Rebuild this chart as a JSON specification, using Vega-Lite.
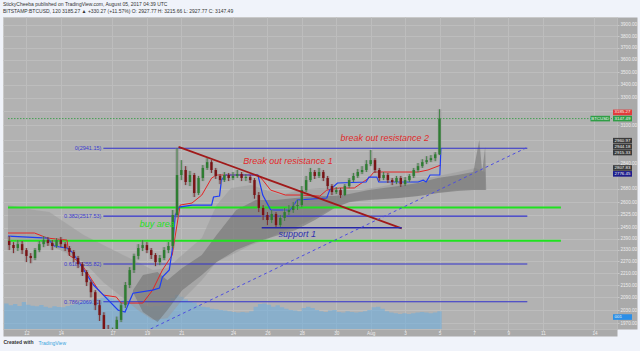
{
  "$schema": "https://vega.github.io/schema/vega-lite/v6.json",
  "width": 614,
  "height": 312,
  "autosize": {"type": "none"},
  "padding": {"left": 3, "top": 17, "right": 23, "bottom": 22},
  "background": "#f0f3fa",
  "title": {
    "text": "StickyCheeba published on TradingView.com, August 05, 2017 04:39 UTC",
    "subtitle": "BITSTAMP:BTCUSD, 120  3185.27 ▲ +330.27 (+11.57%) O: 2927.77 H: 3215.66 L: 2927.77 C: 3147.49",
    "anchor": "start",
    "frame": "group",
    "font": "Liberation Sans",
    "subtitleFont": "Liberation Sans",
    "fontSize": 5,
    "subtitleFontSize": 5,
    "fontWeight": "normal",
    "color": "#333333",
    "subtitleColor": "#333333",
    "offset": 3,
    "subtitlePadding": 2
  },
  "datasets": {
    "candles": [
      {"t": 11.00, "open": 2378, "high": 2405, "low": 2329, "close": 2356, "volume": 7800},
      {"t": 11.25, "open": 2356, "high": 2372, "low": 2313, "close": 2340, "volume": 7200},
      {"t": 11.50, "open": 2340, "high": 2383, "low": 2324, "close": 2361, "volume": 7600},
      {"t": 11.75, "open": 2361, "high": 2378, "low": 2308, "close": 2329, "volume": 7000},
      {"t": 12.00, "open": 2329, "high": 2340, "low": 2266, "close": 2298, "volume": 8200},
      {"t": 12.25, "open": 2298, "high": 2313, "low": 2260, "close": 2287, "volume": 7400},
      {"t": 12.50, "open": 2287, "high": 2340, "low": 2276, "close": 2329, "volume": 7100},
      {"t": 12.75, "open": 2329, "high": 2378, "low": 2318, "close": 2361, "volume": 6900},
      {"t": 13.00, "open": 2361, "high": 2405, "low": 2345, "close": 2383, "volume": 7300},
      {"t": 13.25, "open": 2383, "high": 2400, "low": 2351, "close": 2367, "volume": 6800},
      {"t": 13.50, "open": 2367, "high": 2383, "low": 2329, "close": 2351, "volume": 6500},
      {"t": 13.75, "open": 2351, "high": 2394, "low": 2340, "close": 2383, "volume": 6900},
      {"t": 14.00, "open": 2383, "high": 2400, "low": 2345, "close": 2361, "volume": 6700},
      {"t": 14.25, "open": 2361, "high": 2372, "low": 2324, "close": 2340, "volume": 6600},
      {"t": 14.50, "open": 2340, "high": 2351, "low": 2298, "close": 2319, "volume": 7000},
      {"t": 14.75, "open": 2319, "high": 2329, "low": 2266, "close": 2287, "volume": 7400},
      {"t": 15.00, "open": 2287, "high": 2298, "low": 2235, "close": 2255, "volume": 7800},
      {"t": 15.25, "open": 2255, "high": 2266, "low": 2195, "close": 2215, "volume": 8200},
      {"t": 15.50, "open": 2215, "high": 2225, "low": 2145, "close": 2164, "volume": 8600},
      {"t": 15.75, "open": 2164, "high": 2174, "low": 2090, "close": 2115, "volume": 8400},
      {"t": 16.00, "open": 2115, "high": 2125, "low": 2030, "close": 2053, "volume": 9000},
      {"t": 16.25, "open": 2053, "high": 2077, "low": 1980, "close": 2007, "volume": 9200},
      {"t": 16.50, "open": 2007, "high": 2020, "low": 1900, "close": 1939, "volume": 9600},
      {"t": 16.75, "open": 1939, "high": 1962, "low": 1832, "close": 1904, "volume": 10000},
      {"t": 17.00, "open": 1904, "high": 1950, "low": 1860, "close": 1930, "volume": 9400},
      {"t": 17.25, "open": 1930, "high": 2000, "low": 1915, "close": 1985, "volume": 8800},
      {"t": 17.50, "open": 1985, "high": 2065, "low": 1975, "close": 2053, "volume": 8600},
      {"t": 17.75, "open": 2053, "high": 2165, "low": 2040, "close": 2150, "volume": 8800},
      {"t": 18.00, "open": 2150, "high": 2240, "low": 2135, "close": 2225, "volume": 8400},
      {"t": 18.25, "open": 2225, "high": 2310, "low": 2210, "close": 2298, "volume": 8000},
      {"t": 18.50, "open": 2298, "high": 2361, "low": 2280, "close": 2340, "volume": 7600},
      {"t": 18.75, "open": 2340, "high": 2383, "low": 2324, "close": 2356, "volume": 7400},
      {"t": 19.00, "open": 2356, "high": 2372, "low": 2313, "close": 2329, "volume": 7000},
      {"t": 19.25, "open": 2329, "high": 2340, "low": 2282, "close": 2303, "volume": 6800},
      {"t": 19.50, "open": 2303, "high": 2313, "low": 2245, "close": 2266, "volume": 7000},
      {"t": 19.75, "open": 2266, "high": 2303, "low": 2250, "close": 2287, "volume": 6900},
      {"t": 20.00, "open": 2287, "high": 2345, "low": 2276, "close": 2329, "volume": 7200},
      {"t": 20.25, "open": 2329, "high": 2372, "low": 2313, "close": 2351, "volume": 7600},
      {"t": 20.50, "open": 2351, "high": 2553, "low": 2340, "close": 2524, "volume": 9400},
      {"t": 20.75, "open": 2524, "high": 2941, "low": 2510, "close": 2766, "volume": 10400},
      {"t": 21.00, "open": 2766, "high": 2862, "low": 2734, "close": 2798, "volume": 9800},
      {"t": 21.25, "open": 2798, "high": 2823, "low": 2703, "close": 2722, "volume": 9000},
      {"t": 21.50, "open": 2722, "high": 2792, "low": 2697, "close": 2766, "volume": 8200},
      {"t": 21.75, "open": 2766, "high": 2779, "low": 2630, "close": 2654, "volume": 8000},
      {"t": 22.00, "open": 2654, "high": 2760, "low": 2642, "close": 2747, "volume": 7200},
      {"t": 22.25, "open": 2747, "high": 2830, "low": 2728, "close": 2811, "volume": 6800},
      {"t": 22.50, "open": 2811, "high": 2875, "low": 2798, "close": 2849, "volume": 6600},
      {"t": 22.75, "open": 2849, "high": 2862, "low": 2779, "close": 2798, "volume": 6200},
      {"t": 23.00, "open": 2798, "high": 2811, "low": 2741, "close": 2760, "volume": 6000},
      {"t": 23.25, "open": 2760, "high": 2772, "low": 2709, "close": 2734, "volume": 5800},
      {"t": 23.50, "open": 2734, "high": 2785, "low": 2722, "close": 2766, "volume": 5600},
      {"t": 23.75, "open": 2766, "high": 2779, "low": 2728, "close": 2747, "volume": 5400},
      {"t": 24.00, "open": 2747, "high": 2785, "low": 2734, "close": 2760, "volume": 5200},
      {"t": 24.25, "open": 2760, "high": 2798, "low": 2747, "close": 2772, "volume": 5000},
      {"t": 24.50, "open": 2772, "high": 2785, "low": 2728, "close": 2747, "volume": 5200},
      {"t": 24.75, "open": 2747, "high": 2772, "low": 2728, "close": 2753, "volume": 5000},
      {"t": 25.00, "open": 2753, "high": 2766, "low": 2716, "close": 2734, "volume": 5400},
      {"t": 25.25, "open": 2734, "high": 2747, "low": 2620, "close": 2642, "volume": 6800},
      {"t": 25.50, "open": 2642, "high": 2660, "low": 2541, "close": 2565, "volume": 7600},
      {"t": 25.75, "open": 2565, "high": 2582, "low": 2495, "close": 2524, "volume": 7800},
      {"t": 26.00, "open": 2524, "high": 2541, "low": 2466, "close": 2495, "volume": 7400},
      {"t": 26.25, "open": 2495, "high": 2553, "low": 2478, "close": 2530, "volume": 6800},
      {"t": 26.50, "open": 2530, "high": 2541, "low": 2450, "close": 2466, "volume": 7200},
      {"t": 26.75, "open": 2466, "high": 2524, "low": 2455, "close": 2507, "volume": 6600},
      {"t": 27.00, "open": 2507, "high": 2565, "low": 2490, "close": 2541, "volume": 6200},
      {"t": 27.25, "open": 2541, "high": 2582, "low": 2524, "close": 2553, "volume": 5800},
      {"t": 27.50, "open": 2553, "high": 2600, "low": 2536, "close": 2576, "volume": 5600},
      {"t": 27.75, "open": 2576, "high": 2612, "low": 2553, "close": 2582, "volume": 5400},
      {"t": 28.00, "open": 2582, "high": 2697, "low": 2570, "close": 2672, "volume": 6400},
      {"t": 28.25, "open": 2672, "high": 2760, "low": 2660, "close": 2734, "volume": 6800},
      {"t": 28.50, "open": 2734, "high": 2811, "low": 2722, "close": 2785, "volume": 6400},
      {"t": 28.75, "open": 2785, "high": 2798, "low": 2741, "close": 2760, "volume": 5800},
      {"t": 29.00, "open": 2760, "high": 2811, "low": 2747, "close": 2785, "volume": 5400},
      {"t": 29.25, "open": 2785, "high": 2798, "low": 2728, "close": 2747, "volume": 5200},
      {"t": 29.50, "open": 2747, "high": 2760, "low": 2678, "close": 2697, "volume": 5600},
      {"t": 29.75, "open": 2697, "high": 2709, "low": 2642, "close": 2660, "volume": 5800},
      {"t": 30.00, "open": 2660, "high": 2691, "low": 2648, "close": 2672, "volume": 5200},
      {"t": 30.25, "open": 2672, "high": 2685, "low": 2624, "close": 2642, "volume": 5000},
      {"t": 30.50, "open": 2642, "high": 2709, "low": 2636, "close": 2697, "volume": 5400},
      {"t": 30.75, "open": 2697, "high": 2747, "low": 2685, "close": 2734, "volume": 5200},
      {"t": 31.00, "open": 2734, "high": 2779, "low": 2722, "close": 2760, "volume": 5000},
      {"t": 31.25, "open": 2760, "high": 2804, "low": 2747, "close": 2785, "volume": 5200},
      {"t": 31.50, "open": 2785, "high": 2823, "low": 2772, "close": 2798, "volume": 5400},
      {"t": 31.75, "open": 2798, "high": 2862, "low": 2785, "close": 2836, "volume": 5800},
      {"t": 32.00, "open": 2836, "high": 2929, "low": 2823, "close": 2862, "volume": 6600},
      {"t": 32.25, "open": 2862, "high": 2875, "low": 2779, "close": 2798, "volume": 6800},
      {"t": 32.50, "open": 2798, "high": 2811, "low": 2728, "close": 2747, "volume": 6200},
      {"t": 32.75, "open": 2747, "high": 2785, "low": 2734, "close": 2766, "volume": 5400},
      {"t": 33.00, "open": 2766, "high": 2779, "low": 2716, "close": 2734, "volume": 5000},
      {"t": 33.25, "open": 2734, "high": 2747, "low": 2703, "close": 2722, "volume": 4800},
      {"t": 33.50, "open": 2722, "high": 2760, "low": 2709, "close": 2747, "volume": 4600},
      {"t": 33.75, "open": 2747, "high": 2760, "low": 2691, "close": 2709, "volume": 4800},
      {"t": 34.00, "open": 2709, "high": 2753, "low": 2697, "close": 2734, "volume": 4600},
      {"t": 34.25, "open": 2734, "high": 2772, "low": 2722, "close": 2760, "volume": 4800},
      {"t": 34.50, "open": 2760, "high": 2811, "low": 2747, "close": 2798, "volume": 5000},
      {"t": 34.75, "open": 2798, "high": 2843, "low": 2785, "close": 2823, "volume": 5200},
      {"t": 35.00, "open": 2823, "high": 2868, "low": 2811, "close": 2849, "volume": 5000},
      {"t": 35.25, "open": 2849, "high": 2888, "low": 2836, "close": 2862, "volume": 4800},
      {"t": 35.50, "open": 2862, "high": 2895, "low": 2849, "close": 2875, "volume": 5000},
      {"t": 35.75, "open": 2875, "high": 2915, "low": 2855, "close": 2900, "volume": 5400},
      {"t": 36.00, "open": 2900, "high": 3215.66, "low": 2895, "close": 3147.49, "volume": 9000}
    ],
    "ichimoku": [
      {"line": "conversion", "t": 10.93, "price": 2405},
      {"line": "conversion", "t": 13.22, "price": 2394},
      {"line": "conversion", "t": 13.62, "price": 2351},
      {"line": "conversion", "t": 14.36, "price": 2340},
      {"line": "conversion", "t": 14.65, "price": 2319},
      {"line": "conversion", "t": 15.05, "price": 2266},
      {"line": "conversion", "t": 15.90, "price": 2150},
      {"line": "conversion", "t": 16.76, "price": 2077},
      {"line": "conversion", "t": 17.33, "price": 2030},
      {"line": "conversion", "t": 17.73, "price": 2021},
      {"line": "conversion", "t": 18.02, "price": 2077},
      {"line": "conversion", "t": 18.19, "price": 2110},
      {"line": "conversion", "t": 19.33, "price": 2125},
      {"line": "conversion", "t": 19.73, "price": 2135},
      {"line": "conversion", "t": 19.90, "price": 2190},
      {"line": "conversion", "t": 20.30, "price": 2225},
      {"line": "conversion", "t": 20.47, "price": 2329},
      {"line": "conversion", "t": 20.65, "price": 2524},
      {"line": "conversion", "t": 20.87, "price": 2570},
      {"line": "conversion", "t": 21.62, "price": 2582},
      {"line": "conversion", "t": 22.76, "price": 2582},
      {"line": "conversion", "t": 22.87, "price": 2630},
      {"line": "conversion", "t": 23.22, "price": 2636},
      {"line": "conversion", "t": 23.33, "price": 2734},
      {"line": "conversion", "t": 23.56, "price": 2766},
      {"line": "conversion", "t": 25.45, "price": 2766},
      {"line": "conversion", "t": 25.73, "price": 2642},
      {"line": "conversion", "t": 26.19, "price": 2553},
      {"line": "conversion", "t": 27.33, "price": 2553},
      {"line": "conversion", "t": 27.73, "price": 2612},
      {"line": "conversion", "t": 29.45, "price": 2624},
      {"line": "conversion", "t": 29.62, "price": 2672},
      {"line": "conversion", "t": 30.07, "price": 2716},
      {"line": "conversion", "t": 31.73, "price": 2722},
      {"line": "conversion", "t": 31.90, "price": 2753},
      {"line": "conversion", "t": 32.36, "price": 2753},
      {"line": "conversion", "t": 32.47, "price": 2722},
      {"line": "conversion", "t": 34.76, "price": 2722},
      {"line": "conversion", "t": 35.05, "price": 2734},
      {"line": "conversion", "t": 35.22, "price": 2722},
      {"line": "conversion", "t": 35.45, "price": 2766},
      {"line": "conversion", "t": 36.02, "price": 2766},
      {"line": "conversion", "t": 36.08, "price": 2942},
      {"line": "base", "t": 10.93, "price": 2422},
      {"line": "base", "t": 12.47, "price": 2422},
      {"line": "base", "t": 13.22, "price": 2394},
      {"line": "base", "t": 14.36, "price": 2383},
      {"line": "base", "t": 14.47, "price": 2303},
      {"line": "base", "t": 15.16, "price": 2260},
      {"line": "base", "t": 15.62, "price": 2200},
      {"line": "base", "t": 16.19, "price": 2125},
      {"line": "base", "t": 16.47, "price": 2101},
      {"line": "base", "t": 17.22, "price": 2092},
      {"line": "base", "t": 17.50, "price": 2063},
      {"line": "base", "t": 18.76, "price": 2063},
      {"line": "base", "t": 19.33, "price": 2125},
      {"line": "base", "t": 19.90, "price": 2225},
      {"line": "base", "t": 20.47, "price": 2303},
      {"line": "base", "t": 20.93, "price": 2582},
      {"line": "base", "t": 21.62, "price": 2594},
      {"line": "base", "t": 22.19, "price": 2642},
      {"line": "base", "t": 22.76, "price": 2747},
      {"line": "base", "t": 23.05, "price": 2766},
      {"line": "base", "t": 25.45, "price": 2766},
      {"line": "base", "t": 25.73, "price": 2734},
      {"line": "base", "t": 26.19, "price": 2672},
      {"line": "base", "t": 27.05, "price": 2642},
      {"line": "base", "t": 27.90, "price": 2642},
      {"line": "base", "t": 29.05, "price": 2636},
      {"line": "base", "t": 29.45, "price": 2672},
      {"line": "base", "t": 30.19, "price": 2685},
      {"line": "base", "t": 31.05, "price": 2685},
      {"line": "base", "t": 31.90, "price": 2747},
      {"line": "base", "t": 32.19, "price": 2785},
      {"line": "base", "t": 34.76, "price": 2785},
      {"line": "base", "t": 35.33, "price": 2798},
      {"line": "base", "t": 36.08, "price": 2830}
    ],
    "clouds": [
      {"cloud": "outer", "t": 10.93, "top": 2582, "bottom": 2383},
      {"cloud": "outer", "t": 12.47, "top": 2553, "bottom": 2383},
      {"cloud": "outer", "t": 13.33, "top": 2541, "bottom": 2356},
      {"cloud": "outer", "t": 14.19, "top": 2484, "bottom": 2319},
      {"cloud": "outer", "t": 15.33, "top": 2411, "bottom": 2266},
      {"cloud": "outer", "t": 16.47, "top": 2356, "bottom": 2164},
      {"cloud": "outer", "t": 17.62, "top": 2303, "bottom": 2087},
      {"cloud": "outer", "t": 18.47, "top": 2266, "bottom": 2030},
      {"cloud": "outer", "t": 19.33, "top": 2225, "bottom": 1984},
      {"cloud": "outer", "t": 20.19, "top": 2235, "bottom": 1993},
      {"cloud": "outer", "t": 21.05, "top": 2303, "bottom": 2077},
      {"cloud": "outer", "t": 22.19, "top": 2394, "bottom": 2174},
      {"cloud": "outer", "t": 23.05, "top": 2582, "bottom": 2266},
      {"cloud": "outer", "t": 23.90, "top": 2685, "bottom": 2303},
      {"cloud": "outer", "t": 25.05, "top": 2703, "bottom": 2356},
      {"cloud": "outer", "t": 25.90, "top": 2672, "bottom": 2383},
      {"cloud": "outer", "t": 26.76, "top": 2642, "bottom": 2427},
      {"cloud": "outer", "t": 27.90, "top": 2672, "bottom": 2466},
      {"cloud": "outer", "t": 29.05, "top": 2685, "bottom": 2524},
      {"cloud": "outer", "t": 30.19, "top": 2672, "bottom": 2582},
      {"cloud": "outer", "t": 31.33, "top": 2672, "bottom": 2612},
      {"cloud": "outer", "t": 32.47, "top": 2691, "bottom": 2618},
      {"cloud": "outer", "t": 33.62, "top": 2716, "bottom": 2624},
      {"cloud": "outer", "t": 34.76, "top": 2734, "bottom": 2636},
      {"cloud": "outer", "t": 35.90, "top": 2760, "bottom": 2654},
      {"cloud": "outer", "t": 37.05, "top": 2785, "bottom": 2672},
      {"cloud": "outer", "t": 38.08, "top": 2811, "bottom": 2672},
      {"cloud": "outer", "t": 38.65, "top": 2785, "bottom": 2672},
      {"cloud": "inner", "t": 18.19, "top": 2125, "bottom": 2115},
      {"cloud": "inner", "t": 18.77, "top": 2200, "bottom": 2021},
      {"cloud": "inner", "t": 19.62, "top": 2215, "bottom": 1975},
      {"cloud": "inner", "t": 20.19, "top": 2174, "bottom": 2030},
      {"cloud": "inner", "t": 21.05, "top": 2235, "bottom": 2125},
      {"cloud": "inner", "t": 22.19, "top": 2303, "bottom": 2200},
      {"cloud": "inner", "t": 23.05, "top": 2411, "bottom": 2266},
      {"cloud": "inner", "t": 24.19, "top": 2553, "bottom": 2329},
      {"cloud": "inner", "t": 25.33, "top": 2612, "bottom": 2372},
      {"cloud": "inner", "t": 26.48, "top": 2612, "bottom": 2405},
      {"cloud": "inner", "t": 27.62, "top": 2624, "bottom": 2438},
      {"cloud": "inner", "t": 28.76, "top": 2636, "bottom": 2495},
      {"cloud": "inner", "t": 29.91, "top": 2636, "bottom": 2565},
      {"cloud": "inner", "t": 30.76, "top": 2648, "bottom": 2600},
      {"cloud": "inner", "t": 31.90, "top": 2672, "bottom": 2612},
      {"cloud": "inner", "t": 33.62, "top": 2697, "bottom": 2624},
      {"cloud": "inner", "t": 34.76, "top": 2716, "bottom": 2636},
      {"cloud": "inner", "t": 35.90, "top": 2747, "bottom": 2654},
      {"cloud": "inner", "t": 37.05, "top": 2766, "bottom": 2666},
      {"cloud": "inner", "t": 37.96, "top": 2785, "bottom": 2672},
      {"cloud": "inner", "t": 38.31, "top": 2997, "bottom": 2672},
      {"cloud": "inner", "t": 38.48, "top": 2785, "bottom": 2672},
      {"cloud": "inner", "t": 38.65, "top": 2949, "bottom": 2672},
      {"cloud": "inner", "t": 38.71, "top": 2685, "bottom": 2672}
    ],
    "levels": [
      {"kind": "fib", "label": "0(2941.15)", "price": 2941.15, "t0": 16.47, "t1": 41.1},
      {"kind": "fib", "label": "0.382(2517.53)", "price": 2517.53, "t0": 16.47, "t1": 41.1},
      {"kind": "fib", "label": "0.618(2255.82)", "price": 2255.82, "t0": 16.47, "t1": 41.1},
      {"kind": "fib", "label": "0.786(2069.52)", "price": 2069.52, "t0": 16.47, "t1": 41.1},
      {"kind": "zone", "label": "buy area top", "price": 2567, "t0": 10.93, "t1": 43.05},
      {"kind": "zone", "label": "buy area bottom", "price": 2380, "t0": 10.93, "t1": 43.05},
      {"kind": "last", "label": "last close", "price": 3147.49, "t0": 10.93, "t1": 46.02},
      {"kind": "support", "label": "support 1", "price": 2452, "t0": 25.67, "t1": 33.8}
    ],
    "trend": [
      {"line": "resistance", "t": 20.84, "price": 2950},
      {"line": "resistance", "t": 33.8, "price": 2448},
      {"line": "channel", "t": 19.21, "price": 1944},
      {"line": "channel", "t": 41.1, "price": 2947}
    ],
    "notes": [
      {"kind": "red", "text": "Break out resistance 1", "t": 24.59, "price": 2855},
      {"kind": "red", "text": "break out resistance 2", "t": 30.25, "price": 3011},
      {"kind": "blue", "text": "support 1", "t": 26.65, "price": 2417},
      {"kind": "green", "text": "buy area", "t": 18.59, "price": 2472}
    ],
    "tags": [
      {"label": "3185.27", "price": 3185.27, "kind": "last"},
      {"label": "3147.49", "price": 3147.49, "kind": "close"},
      {"label": "BTCUSD", "price": 3147.49, "kind": "symbol"},
      {"label": "2960.97", "price": 2960.97, "kind": "lead1"},
      {"label": "2944.18", "price": 2944.18, "kind": "lead2"},
      {"label": "2915.33", "price": 2915.33, "kind": "lagging"},
      {"label": "2807.83", "price": 2807.83, "kind": "ichimoku"},
      {"label": "2776.45", "price": 2776.45, "kind": "base"},
      {"label": "001", "price": 1998, "kind": "volume"}
    ]
  },
  "layer": [
    {
      "data": {"name": "candles"},
      "mark": {"type": "area", "interpolate": "step-after", "color": "#6eaedc", "opacity": 0.6},
      "encoding": {
        "x": {
          "field": "t", "type": "quantitative",
          "scale": {"domain": [10.93, 46.02], "nice": false, "zero": false},
          "axis": {
            "orient": "bottom",
            "grid": false, "labels": false, "ticks": false,
            "domain": true, "domainWidth": 7, "domainColor": "#aaaaaa", "offset": 3.5,
            "title": "Created with", "titleX": 0, "titleY": 8.5, "titleAlign": "left", "titleAnchor": "start",
            "titleBaseline": "middle", "titleFont": "Liberation Sans", "titleFontSize": 5, "titleFontWeight": "bold", "titleColor": "#333333"
          }
        },
        "y": {
          "field": "volume", "type": "quantitative", "scale": {"domain": [0, 95000]},
          "axis": {
            "orient": "right", "grid": false, "labels": false, "ticks": false,
            "domain": true, "domainWidth": 20, "domainColor": "#aaaaaa", "offset": 10,
            "title": "TradingView", "titleAngle": 0, "titleX": -589, "titleY": 325,
            "titleAlign": "left", "titleBaseline": "middle", "titleFont": "Liberation Sans",
            "titleFontSize": 5, "titleFontWeight": "normal", "titleColor": "#3aa3dc"
          }
        }
      }
    },
    {
      "layer": [
        {
          "data": {"name": "clouds"},
          "transform": [{"filter": "datum.cloud == 'outer'"}],
          "mark": {"type": "area", "color": "#9a9a9a", "opacity": 0.55},
          "encoding": {
            "x": {
              "field": "t", "type": "quantitative",
              "scale": {"domain": [10.93, 46.02], "nice": false, "zero": false},
              "axis": {
                "orient": "bottom",
                "values": [12, 14, 17, 19, 21, 24, 26, 28, 30, 32, 34, 36, 38, 40, 42, 45],
                "labelExpr": "datum.value == 32 ? 'Aug' : (datum.value > 31 ? datum.value - 31 : datum.value)",
                "grid": true, "gridColor": "#bdbdbd", "gridWidth": 1,
                "ticks": true, "tickSize": 2, "tickColor": "#c8c8c8",
                "domain": false, "labelPadding": 2.5, "labelBaseline": "middle",
                "labelFont": "Liberation Sans", "labelFontSize": 4.6, "labelColor": "#eeeeee", "labelFlush": false,
                "title": null
              }
            },
            "y": {
              "field": "top", "type": "quantitative",
              "scale": {"type": "log", "domain": [1944, 3972], "nice": false, "zero": false},
              "axis": {
                "orient": "right",
                "values": [1970, 2030, 2090, 2150, 2210, 2270, 2330, 2390, 2450, 2525, 2600, 2680, 2760, 2840, 2920, 3000, 3100, 3200, 3300, 3400, 3500, 3600, 3700, 3800, 3900],
                "labelExpr": "indexof([3200, 3000, 2920, 2760], datum.value) >= 0 ? '' : format(datum.value, '.2f')",
                "grid": true, "gridColor": "#bdbdbd", "gridWidth": 1,
                "ticks": true, "tickSize": 2, "tickColor": "#c8c8c8",
                "domain": false,
                "labelPadding": 1, "labelFont": "Liberation Sans", "labelFontSize": 4.6, "labelColor": "#eeeeee",
                "labelOverlap": false, "labelFlush": false,
                "title": null
              }
            },
            "y2": {"field": "bottom"}
          }
        },
        {
          "data": {"name": "clouds"},
          "transform": [{"filter": "datum.cloud == 'inner'"}],
          "mark": {"type": "area", "color": "#6a6a6a", "opacity": 0.5},
          "encoding": {
            "x": {"field": "t", "type": "quantitative"},
            "y": {"field": "top", "type": "quantitative"},
            "y2": {"field": "bottom"}
          }
        },
        {
          "data": {"name": "levels"},
          "transform": [{"filter": "datum.kind == 'zone'"}],
          "mark": {"type": "rule", "color": "#1fe21f", "strokeWidth": 2},
          "encoding": {
            "x": {"field": "t0", "type": "quantitative"},
            "x2": {"field": "t1"},
            "y": {"field": "price", "type": "quantitative"}
          }
        },
        {
          "data": {"name": "levels"},
          "transform": [{"filter": "datum.kind == 'fib'"}],
          "mark": {"type": "rule", "color": "#3232cc", "strokeWidth": 1.1},
          "encoding": {
            "x": {"field": "t0", "type": "quantitative"},
            "x2": {"field": "t1"},
            "y": {"field": "price", "type": "quantitative"}
          }
        },
        {
          "data": {"name": "levels"},
          "transform": [{"filter": "datum.kind == 'fib'"}],
          "mark": {"type": "text", "color": "#3a3ad0", "align": "right", "baseline": "middle", "dx": -2, "font": "Liberation Sans", "fontSize": 5.5},
          "encoding": {
            "x": {"field": "t0", "type": "quantitative"},
            "y": {"field": "price", "type": "quantitative"},
            "text": {"field": "label"}
          }
        },
        {
          "data": {"name": "levels"},
          "transform": [{"filter": "datum.kind == 'last'"}],
          "mark": {"type": "rule", "color": "#2a9a3a", "strokeWidth": 0.8, "strokeDash": [1.5, 1.5]},
          "encoding": {
            "x": {"field": "t0", "type": "quantitative"},
            "x2": {"field": "t1"},
            "y": {"field": "price", "type": "quantitative"}
          }
        },
        {
          "data": {"name": "ichimoku"},
          "transform": [{"filter": "datum.line == 'base'"}],
          "mark": {"type": "line", "color": "#e42424", "strokeWidth": 1},
          "encoding": {
            "x": {"field": "t", "type": "quantitative"},
            "y": {"field": "price", "type": "quantitative"}
          }
        },
        {
          "data": {"name": "ichimoku"},
          "transform": [{"filter": "datum.line == 'conversion'"}],
          "mark": {"type": "line", "color": "#1d3cf5", "strokeWidth": 1.2},
          "encoding": {
            "x": {"field": "t", "type": "quantitative"},
            "y": {"field": "price", "type": "quantitative"}
          }
        },
        {
          "data": {"name": "candles"},
          "mark": {"type": "rule", "color": "#858585", "strokeWidth": 3.5, "opacity": 0.45, "clip": true},
          "encoding": {
            "x": {"field": "t", "type": "quantitative"},
            "y": {"field": "low", "type": "quantitative"},
            "y2": {"field": "high"}
          }
        },
        {
          "data": {"name": "candles"},
          "mark": {"type": "rule", "strokeWidth": 0.8, "clip": true},
          "encoding": {
            "x": {"field": "t", "type": "quantitative"},
            "y": {"field": "low", "type": "quantitative"},
            "y2": {"field": "high"},
            "color": {"condition": {"test": "datum.close >= datum.open", "value": "#2e7d32"}, "value": "#7a1416"}
          }
        },
        {
          "data": {"name": "candles"},
          "mark": {"type": "bar", "size": 2.4, "clip": true},
          "encoding": {
            "x": {"field": "t", "type": "quantitative"},
            "y": {"field": "open", "type": "quantitative"},
            "y2": {"field": "close"},
            "color": {"condition": {"test": "datum.close >= datum.open", "value": "#2e7d32"}, "value": "#7a1416"}
          }
        },
        {
          "data": {"name": "trend"},
          "transform": [{"filter": "datum.line == 'resistance'"}],
          "mark": {"type": "line", "color": "#a01a1a", "strokeWidth": 1.8},
          "encoding": {
            "x": {"field": "t", "type": "quantitative"},
            "y": {"field": "price", "type": "quantitative"}
          }
        },
        {
          "data": {"name": "levels"},
          "transform": [{"filter": "datum.kind == 'support'"}],
          "mark": {"type": "rule", "color": "#2626a6", "strokeWidth": 1.5},
          "encoding": {
            "x": {"field": "t0", "type": "quantitative"},
            "x2": {"field": "t1"},
            "y": {"field": "price", "type": "quantitative"}
          }
        },
        {
          "data": {"name": "trend"},
          "transform": [{"filter": "datum.line == 'channel'"}],
          "mark": {"type": "line", "color": "#4d4de0", "strokeWidth": 1, "strokeDash": [3, 3], "clip": true},
          "encoding": {
            "x": {"field": "t", "type": "quantitative"},
            "y": {"field": "price", "type": "quantitative"}
          }
        },
        {
          "data": {"name": "notes"},
          "transform": [{"filter": "datum.kind == 'red'"}],
          "mark": {"type": "text", "color": "#e02a2a", "align": "left", "baseline": "middle", "font": "Liberation Sans", "fontSize": 9, "fontStyle": "italic"},
          "encoding": {
            "x": {"field": "t", "type": "quantitative"},
            "y": {"field": "price", "type": "quantitative"},
            "text": {"field": "text"}
          }
        },
        {
          "data": {"name": "notes"},
          "transform": [{"filter": "datum.kind == 'blue'"}],
          "mark": {"type": "text", "color": "#2f2fb0", "align": "left", "baseline": "middle", "font": "Liberation Sans", "fontSize": 9, "fontStyle": "italic"},
          "encoding": {
            "x": {"field": "t", "type": "quantitative"},
            "y": {"field": "price", "type": "quantitative"},
            "text": {"field": "text"}
          }
        },
        {
          "data": {"name": "notes"},
          "transform": [{"filter": "datum.kind == 'green'"}],
          "mark": {"type": "text", "color": "#22e022", "align": "left", "baseline": "middle", "font": "Liberation Sans", "fontSize": 9, "fontStyle": "italic"},
          "encoding": {
            "x": {"field": "t", "type": "quantitative"},
            "y": {"field": "price", "type": "quantitative"},
            "text": {"field": "text"}
          }
        },
        {
          "data": {"name": "tags"},
          "transform": [{"filter": "datum.kind == 'close' || datum.kind == 'volume'"}],
          "mark": {"type": "point", "shape": "M0.1,-0.28H2V0.28H0.1Z", "size": 400, "filled": true, "opacity": 1, "strokeWidth": 0, "clip": false},
          "encoding": {
            "x": {"datum": 46.02, "type": "quantitative"},
            "y": {"field": "price", "type": "quantitative"},
            "color": {
              "field": "kind", "type": "nominal", "legend": null,
              "scale": {
                "domain": ["last", "close", "symbol", "lead1", "lead2", "lagging", "ichimoku", "base", "volume"],
                "range": ["#e23b3b", "#2f9e46", "#2f9e46", "#3b3b3b", "#3b3b3b", "#3b3b3b", "#3b3b3b", "#1c1c8c", "#2b8fe8"]
              }
            }
          }
        },
        {
          "data": {"name": "tags"},
          "transform": [{"filter": "datum.kind == 'last' || datum.kind == 'lead2'"}],
          "mark": {"type": "point", "shape": "M0.1,-0.38H2V0.18H0.1Z", "size": 400, "filled": true, "opacity": 1, "strokeWidth": 0, "clip": false},
          "encoding": {
            "x": {"datum": 46.02, "type": "quantitative"},
            "y": {"field": "price", "type": "quantitative"},
            "color": {"field": "kind", "type": "nominal", "legend": null}
          }
        },
        {
          "data": {"name": "tags"},
          "transform": [{"filter": "datum.kind == 'lead1'"}],
          "mark": {"type": "point", "shape": "M0.1,-0.74H2V-0.18H0.1Z", "size": 400, "filled": true, "opacity": 1, "strokeWidth": 0, "clip": false},
          "encoding": {
            "x": {"datum": 46.02, "type": "quantitative"},
            "y": {"field": "price", "type": "quantitative"},
            "color": {"field": "kind", "type": "nominal", "legend": null}
          }
        },
        {
          "data": {"name": "tags"},
          "transform": [{"filter": "datum.kind == 'lagging' || datum.kind == 'base'"}],
          "mark": {"type": "point", "shape": "M0.1,-0.23H2V0.33H0.1Z", "size": 400, "filled": true, "opacity": 1, "strokeWidth": 0, "clip": false},
          "encoding": {
            "x": {"datum": 46.02, "type": "quantitative"},
            "y": {"field": "price", "type": "quantitative"},
            "color": {"field": "kind", "type": "nominal", "legend": null}
          }
        },
        {
          "data": {"name": "tags"},
          "transform": [{"filter": "datum.kind == 'ichimoku'"}],
          "mark": {"type": "point", "shape": "M0.1,-0.33H2V0.23H0.1Z", "size": 400, "filled": true, "opacity": 1, "strokeWidth": 0, "clip": false},
          "encoding": {
            "x": {"datum": 46.02, "type": "quantitative"},
            "y": {"field": "price", "type": "quantitative"},
            "color": {"field": "kind", "type": "nominal", "legend": null}
          }
        },
        {
          "data": {"name": "tags"},
          "transform": [{"filter": "datum.kind == 'symbol'"}],
          "mark": {"type": "point", "shape": "M-2.15,-0.28H-0.2V0.28H-2.15Z", "size": 400, "filled": true, "opacity": 1, "strokeWidth": 0, "clip": false},
          "encoding": {
            "x": {"datum": 46.02, "type": "quantitative"},
            "y": {"field": "price", "type": "quantitative"},
            "color": {"field": "kind", "type": "nominal", "legend": null}
          }
        },
        {
          "data": {"name": "tags"},
          "transform": [{"filter": "datum.kind == 'close' || datum.kind == 'volume'"}],
          "mark": {"type": "text", "align": "left", "baseline": "middle", "dx": 2.5, "color": "#f4f4f4", "font": "Liberation Sans", "fontSize": 4.4},
          "encoding": {
            "x": {"datum": 46.02, "type": "quantitative"},
            "y": {"field": "price", "type": "quantitative"},
            "text": {"field": "label"}
          }
        },
        {
          "data": {"name": "tags"},
          "transform": [{"filter": "datum.kind == 'last' || datum.kind == 'lead2'"}],
          "mark": {"type": "text", "align": "left", "baseline": "middle", "dx": 2.5, "dy": -1, "color": "#f4f4f4", "font": "Liberation Sans", "fontSize": 4.4},
          "encoding": {
            "x": {"datum": 46.02, "type": "quantitative"},
            "y": {"field": "price", "type": "quantitative"},
            "text": {"field": "label"}
          }
        },
        {
          "data": {"name": "tags"},
          "transform": [{"filter": "datum.kind == 'lead1'"}],
          "mark": {"type": "text", "align": "left", "baseline": "middle", "dx": 2.5, "dy": -4.6, "color": "#f4f4f4", "font": "Liberation Sans", "fontSize": 4.4},
          "encoding": {
            "x": {"datum": 46.02, "type": "quantitative"},
            "y": {"field": "price", "type": "quantitative"},
            "text": {"field": "label"}
          }
        },
        {
          "data": {"name": "tags"},
          "transform": [{"filter": "datum.kind == 'lagging' || datum.kind == 'base'"}],
          "mark": {"type": "text", "align": "left", "baseline": "middle", "dx": 2.5, "dy": 0.5, "color": "#f4f4f4", "font": "Liberation Sans", "fontSize": 4.4},
          "encoding": {
            "x": {"datum": 46.02, "type": "quantitative"},
            "y": {"field": "price", "type": "quantitative"},
            "text": {"field": "label"}
          }
        },
        {
          "data": {"name": "tags"},
          "transform": [{"filter": "datum.kind == 'ichimoku'"}],
          "mark": {"type": "text", "align": "left", "baseline": "middle", "dx": 2.5, "dy": -0.5, "color": "#f4f4f4", "font": "Liberation Sans", "fontSize": 4.4},
          "encoding": {
            "x": {"datum": 46.02, "type": "quantitative"},
            "y": {"field": "price", "type": "quantitative"},
            "text": {"field": "label"}
          }
        },
        {
          "data": {"name": "tags"},
          "transform": [{"filter": "datum.kind == 'symbol'"}],
          "mark": {"type": "text", "align": "center", "baseline": "middle", "dx": -11.75, "color": "#f4f4f4", "font": "Liberation Sans", "fontSize": 4.4},
          "encoding": {
            "x": {"datum": 46.02, "type": "quantitative"},
            "y": {"field": "price", "type": "quantitative"},
            "text": {"field": "label"}
          }
        }
      ]
    }
  ],
  "resolve": {"scale": {"x": "independent", "y": "independent"}},
  "config": {
    "view": {"fill": "#b2b2b2", "stroke": "#c9c9c9", "strokeWidth": 1},
    "font": "Liberation Sans"
  }
}
